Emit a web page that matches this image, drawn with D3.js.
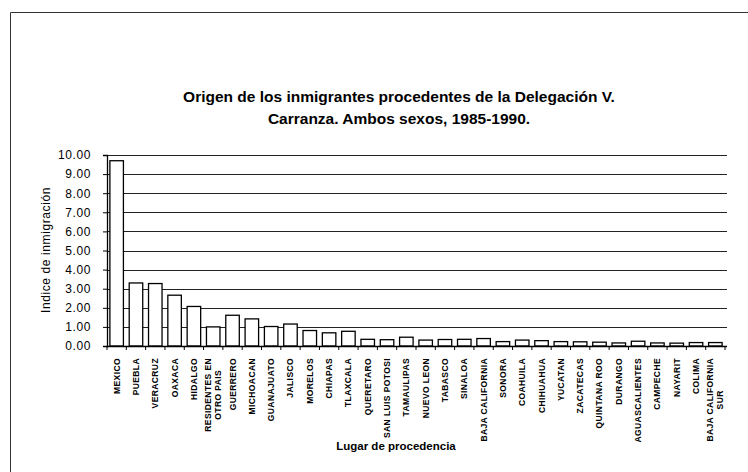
<!DOCTYPE html>
<html>
<head>
<meta charset="utf-8">
<script src="https://cdn.jsdelivr.net/npm/d3@7/dist/d3.min.js"></script>
<style>
  html, body { margin: 0; padding: 0; background: #fff; }
  svg { display: block; }
  text { font-family: "Liberation Sans", Arial, Helvetica, sans-serif; fill: #000; }
</style>
</head>
<body>
<svg id="chart" width="748" height="472"></svg>
<script>
const categories = [
  "MEXICO", "PUEBLA", "VERACRUZ", "OAXACA", "HIDALGO", "RESIDENTES EN|OTRO PAIS",
  "GUERRERO", "MICHOACAN", "GUANAJUATO", "JALISCO", "MORELOS", "CHIAPAS", "TLAXCALA",
  "QUERETARO", "SAN LUIS POTOSI", "TAMAULIPAS", "NUEVO LEON", "TABASCO", "SINALOA",
  "BAJA CALIFORNIA", "SONORA", "COAHUILA", "CHIHUAHUA", "YUCATAN", "ZACATECAS",
  "QUINTANA ROO", "DURANGO", "AGUASCALIENTES", "CAMPECHE", "NAYARIT", "COLIMA",
  "BAJA CALIFORNIA|SUR"
];
const values = [
  9.70, 3.30, 3.27, 2.66, 2.07, 1.00,
  1.61, 1.42, 1.02, 1.15, 0.81, 0.69, 0.77,
  0.35, 0.33, 0.46, 0.31, 0.34, 0.35,
  0.39, 0.23, 0.31, 0.28, 0.23, 0.22,
  0.20, 0.16, 0.25, 0.16, 0.15, 0.18,
  0.18
];
const yTickValues = [0, 1, 2, 3, 4, 5, 6, 7, 8, 9, 10];
const titleLines = ["Origen de los inmigrantes procedentes de la Delegación V.", "Carranza. Ambos sexos, 1985-1990."];
const yAxisTitle = "Indice de inmigración";
const xAxisTitle = "Lugar de procedencia";

const svg = d3.select("#chart");
const W = 748, H = 472;
const plot = { left: 107, right: 725, top: 155, bottom: 346 };

// outer frame (left and top edges visible)
svg.append("path")
  .attr("d", `M10.5,${H} L10.5,12.5 L${W},12.5`)
  .attr("fill", "none").attr("stroke", "#333").attr("stroke-width", 1);

const x = d3.scaleBand().domain(categories).range([plot.left, plot.right]).paddingInner(0.3).paddingOuter(0.15);
const y = d3.scaleLinear().domain([0, 10]).range([plot.bottom, plot.top]);

// gridlines
svg.append("g")
  .selectAll("line")
  .data(yTickValues.filter(d => d > 0))
  .join("line")
  .attr("x1", plot.left).attr("x2", plot.right + 2)
  .attr("y1", d => Math.round(y(d)) + 0.5).attr("y2", d => Math.round(y(d)) + 0.5)
  .attr("stroke", "#222").attr("stroke-width", 1);

// bars
svg.append("g")
  .selectAll("rect")
  .data(values)
  .join("rect")
  .attr("x", (d, i) => x(categories[i]))
  .attr("width", x.bandwidth())
  .attr("y", d => y(d))
  .attr("height", d => y(0) - y(d))
  .attr("fill", "#fff").attr("stroke", "#000").attr("stroke-width", 1.3);

// y axis
const yAxis = d3.axisLeft(y).tickValues(yTickValues).tickFormat(d3.format(".2f")).tickSize(4).tickPadding(12);
const gy = svg.append("g").attr("transform", `translate(${plot.left},0)`).call(yAxis);
gy.select(".domain").attr("stroke", "#000").attr("stroke-width", 1.3);
gy.selectAll(".tick line").attr("stroke", "#000");
gy.selectAll(".tick text").style("font-size", "12px").style("letter-spacing", "0.6px")
  .style("font-family", "'Liberation Sans', Arial, sans-serif");

// x axis line and boundary ticks
const xAxis = d3.axisBottom(x).tickSize(0).tickFormat("");
const gx = svg.append("g").attr("transform", `translate(0,${plot.bottom})`).call(xAxis);
gx.select(".domain").attr("d", `M${plot.left},0.5H${plot.right + 2}`).attr("stroke", "#000").attr("stroke-width", 1.3);
const step = x.step();
const boundaries = d3.range(categories.length + 1).map(i => x(categories[0]) - step * x.paddingInner() / 2 + i * step);
gx.selectAll(".bnd").data(boundaries).join("line").attr("class", "bnd")
  .attr("x1", d => d).attr("x2", d => d).attr("y1", 0).attr("y2", 4)
  .attr("stroke", "#000").attr("stroke-width", 1);

// x category labels (rotated)
const labelTop = plot.bottom + 12;
const lg = svg.append("g");
categories.forEach((c, i) => {
  const lines = c.split("|");
  const cx = x(c) + x.bandwidth() / 2;
  const g = lg.append("g").attr("transform", `translate(${cx},${labelTop}) rotate(-90)`);
  const t = g.append("text").attr("text-anchor", "middle")
    .style("font-size", "8.5px").style("font-weight", "bold").style("letter-spacing", "0.4px");
  const n = lines.length;
  lines.forEach((ln, k) => {
    t.append("tspan").attr("x", 0)
      .attr("dy", k === 0 ? `${0.35 - (n - 1) * 1.2 / 2}em` : "1.2em")
      .text(ln);
  });
  let maxLen = 0;
  t.selectAll("tspan").each(function () { maxLen = Math.max(maxLen, this.getComputedTextLength()); });
  t.selectAll("tspan").attr("x", -maxLen / 2);
});

// titles
const tt = svg.append("text").attr("x", 399).attr("y", 102).attr("text-anchor", "middle")
  .style("font-size", "15.5px").style("font-weight", "bold");
titleLines.forEach((ln, k) => tt.append("tspan").attr("x", 399).attr("dy", k === 0 ? 0 : 22).text(ln));

svg.append("text").attr("transform", `translate(50,250) rotate(-90)`).attr("text-anchor", "middle")
  .style("font-size", "12px").style("letter-spacing", "0.6px").text(yAxisTitle);

svg.append("text").attr("x", 396).attr("y", 450).attr("text-anchor", "middle")
  .style("font-size", "11.5px").style("font-weight", "bold").text(xAxisTitle);
</script>
</body>
</html>
